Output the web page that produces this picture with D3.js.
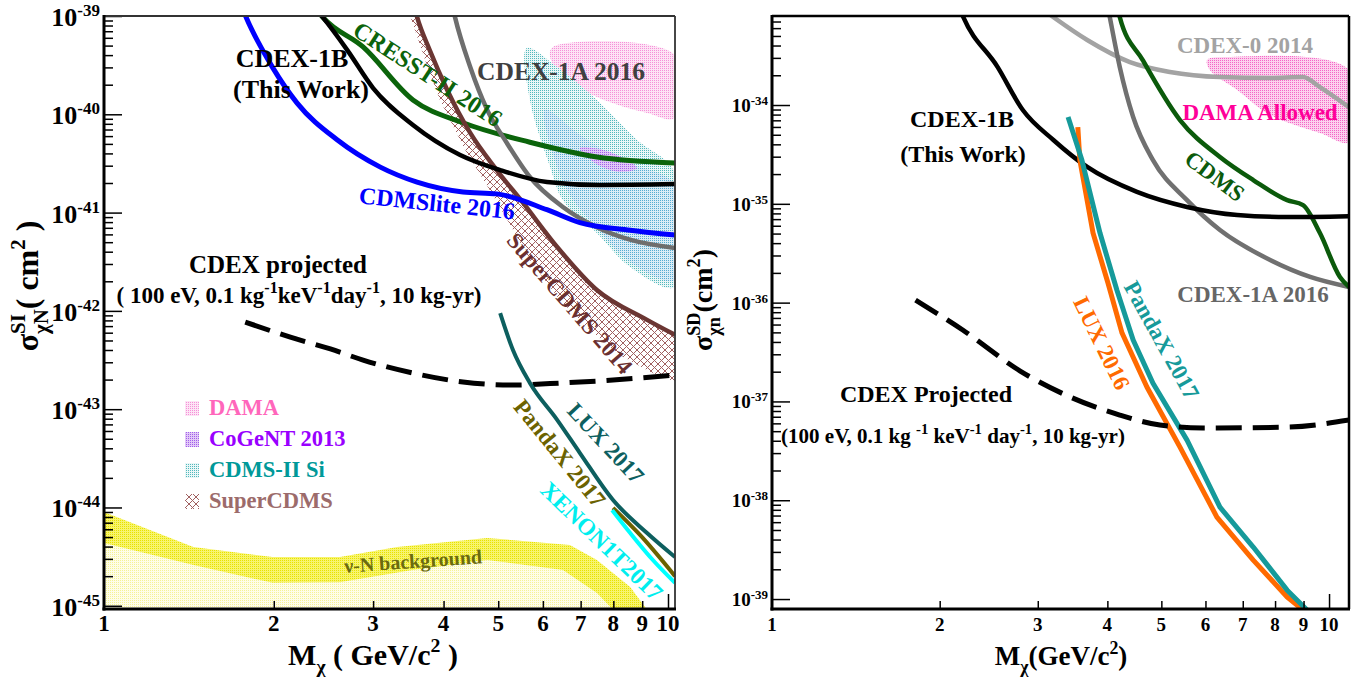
<!DOCTYPE html>
<html><head><meta charset="utf-8">
<script src="https://cdn.jsdelivr.net/npm/d3@7"></script>
<style>
body{margin:0;background:#fff}
svg{display:block}
text{font-family:"Liberation Serif","Times New Roman",serif;font-weight:bold}
</style>
</head><body>
<svg id="c" width="1366" height="679"></svg>
<script>
// ---------------- DATA ----------------
const massTicks = [1,2,3,4,5,6,7,8,9,10];
const leftDecades = [-39,-40,-41,-42,-43,-44,-45];
const rightDecades = [-34,-35,-36,-37,-38,-39];

// Left panel (spin-independent): [mass GeV, sigma cm^2]
const cdex1bSI = [[2.40,1.1e-39],[2.44,9.8e-40],[2.70,4.5e-40],[3.00,1.85e-40],[3.53,7.8e-41],[4.28,3.86e-41],[5.04,2.71e-41],[6.10,2.05e-41],[7.57,1.91e-41],[10.29,1.95e-41]];
const cresst2016 = [[2.40,1.1e-39],[2.44,9.8e-40],[2.88,4.84e-40],[3.53,1.40e-40],[4.33,8.2e-41],[5.69,5.2e-41],[7.48,3.68e-41],[10.29,3.2e-41]];
const cdmsLite2016 = [[1.77,1.1e-39],[1.785,9.8e-40],[1.99,3.0e-40],[2.20,1.30e-40],[2.59,5.5e-41],[3.09,2.9e-41],[3.59,2.04e-41],[4.33,1.62e-41],[4.97,1.55e-41],[6.10,1.07e-41],[6.98,7.9e-42],[8.57,6.6e-42],[10.29,5.9e-42]];
const cdex1a2016SI = [[4.17,1.1e-39],[4.19,9.8e-40],[4.46,3.03e-40],[4.78,1.11e-40],[5.18,5.1e-41],[5.69,2.30e-41],[6.51,1.14e-41],[7.48,7.1e-42],[8.56,5.3e-42],[10.29,4.37e-42]];
const superCdms2014 = [[3.57,1.1e-39],[3.59,9.8e-40],[3.78,4.5e-40],[4.06,1.77e-40],[4.46,6.46e-41],[4.97,2.71e-41],[5.53,1.26e-41],[6.36,4.47e-42],[7.48,1.63e-42],[9.18,8.1e-43],[10.29,5.7e-43]];
const superCdmsLow = [[3.49,1.0e-39],[3.71,3.56e-40],[3.94,1.40e-40],[4.37,4.34e-41],[4.83,1.70e-41],[5.25,7.5e-42],[5.69,3.30e-42],[6.43,1.29e-42],[7.27,6.4e-43],[8.22,3.56e-43],[9.29,2.4e-43],[10.29,1.9e-43]];
const cdexProjSI = [[1.78,7.7e-43],[2.14,5.4e-43],[2.52,4.1e-43],[2.88,3.16e-43],[3.53,2.33e-43],[4.33,1.89e-43],[5.31,1.76e-43],[6.51,1.85e-43],[7.99,1.98e-43],[10.29,2.23e-43]];
const lux2017 = [[5.04,9.5e-43],[5.31,4.0e-43],[5.69,1.85e-43],[6.36,7.8e-44],[6.98,3.58e-44],[7.99,1.19e-44],[9.18,5.5e-45],[10.29,3.13e-45]];
const pandax2017SI = [[7.99,9.9e-45],[8.92,5.25e-45],[10.29,2.0e-45]];
const xenon1t2017 = [[7.96,9.4e-45],[8.57,5.5e-45],[9.40,2.92e-45],[10.29,1.71e-45]];
const nuBgUpper = [[1,9.0e-45],[1.44,3.96e-45],[1.99,3.13e-45],[2.62,3.13e-45],[3.31,3.96e-45],[4.78,4.9e-45],[6.70,4.16e-45],[7.48,2.92e-45],[8.57,1.55e-45],[9.18,9.1e-46]];
const nuBgLower = [[1,4.35e-45],[1.44,2.6e-45],[1.99,1.71e-45],[2.62,1.73e-45],[3.53,2.31e-45],[4.78,2.92e-45],[6.51,2.31e-45],[7.48,1.35e-45],[7.99,9.1e-46]];
const damaSI = [[6.25,4.84e-40],[10.29,4.0e-40],[10.29,9.2e-41],[9.18,1.03e-40],[7.48,1.5e-40],[6.51,2.4e-40],[6.18,3.83e-40]];
const cdms2SiOuter = [[5.62,4.72e-40],[6.36,3.03e-40],[7.48,1.40e-40],[8.81,5.5e-41],[10.29,2.53e-41],[10.29,1.75e-42],[8.57,2.8e-42],[7.48,6.2e-42],[6.51,1.34e-41],[6.18,2.91e-41],[5.69,1.40e-40]];
const cdms2SiInner = [[6.05,1.11e-40],[6.98,6.2e-41],[8.22,3.43e-41],[10.29,1.91e-41],[10.29,2.06e-42],[8.57,3.14e-42],[7.48,6.97e-42],[6.70,1.51e-41],[6.30,3.43e-41]];
const cogent2013 = [[6.98,4.54e-41],[7.89,4.13e-41],[8.81,2.85e-41],[8.22,2.59e-41],[7.42,3.2e-41]];

// Right panel (spin-dependent neutron)
const cdex1bSD = [[2.18,9.0e-34],[2.20,7.96e-34],[2.54,2.43e-34],[2.82,8.9e-35],[3.20,4.43e-35],[3.68,2.36e-35],[4.52,1.32e-35],[5.56,9.3e-36],[6.84,7.7e-36],[8.41,7.35e-36],[10.86,7.5e-36]];
const cdex0_2014 = [[3.16,8.15e-34],[3.68,4.55e-34],[4.39,2.72e-34],[5.18,2.16e-34],[6.37,1.92e-34],[7.84,1.88e-34],[8.98,1.92e-34],[9.63,1.52e-34],[10.86,9.5e-35]];
const cdex1a2016SD = [[4.02,9.0e-34],[4.04,7.78e-34],[4.21,2.43e-34],[4.45,7.57e-35],[4.83,2.77e-35],[5.56,1.09e-35],[6.37,5.43e-36],[7.84,2.7e-36],[9.25,1.82e-36],[10.86,1.44e-36]];
const cdmsSD = [[4.19,9.0e-34],[4.21,7.78e-34],[4.63,2.85e-34],[5.40,7.05e-35],[6.37,2.98e-35],[7.31,1.74e-35],[8.41,1.09e-35],[8.98,9.7e-36],[9.63,5.06e-36],[10.46,1.82e-36],[10.86,1.44e-36]];
const damaSD = [[6.04,2.85e-34],[6.56,3.06e-34],[10.86,2.26e-34],[10.86,4.22e-35],[9.63,5.21e-35],[7.84,7.92e-35],[6.84,1.42e-34],[6.11,2.26e-34]];
const lux2016 = [[3.54,5.98e-35],[3.57,2.77e-35],[3.77,5.06e-36],[4.01,1.58e-36],[4.25,4.92e-37],[4.71,1.40e-37],[5.40,3.45e-38],[6.29,6.76e-39],[7.31,2.48e-39],[8.41,1.05e-39],[8.98,7.76e-40]];
const pandax2017SD = [[3.40,7.57e-35],[3.60,2.77e-35],[3.88,5.06e-36],[4.16,1.34e-36],[4.45,4.18e-37],[4.83,1.53e-37],[5.56,4.06e-38],[6.37,8.5e-39],[7.31,3.36e-39],[8.41,1.23e-39],[9.13,7.76e-40]];
const cdexProjSD = [[1.81,1.06e-36],[2.20,5.28e-37],[2.79,2.03e-37],[3.43,1.11e-37],[4.21,7.28e-38],[4.97,5.77e-38],[5.94,5.38e-38],[8.41,5.5e-38],[10.86,6.49e-38]];

// ---------------- SETUP ----------------
const svg = d3.select("#c");
const defs = svg.append("defs");
function dotPattern(id,bg,fg){
  const p = defs.append("pattern").attr("id",id).attr("width",2).attr("height",2).attr("patternUnits","userSpaceOnUse");
  p.append("rect").attr("width",2).attr("height",2).attr("fill",bg);
  p.append("rect").attr("width",1).attr("height",1).attr("fill",fg);
}
dotPattern("pPink","#fde4f5","#f590d8");
dotPattern("pTeal","#eaf7f7","#52b8bc");
dotPattern("pBlue","#cfe3f5","#5aa2e2");
dotPattern("pPurple","#e2c8f7","#a060ea");
dotPattern("pYellow","#f7f46e","#e8e200");
dotPattern("pYellowL","#fefde8","#f5f296");
dotPattern("pPinkR","#fcd2ee","#f466c6");
const ch = defs.append("pattern").attr("id","pHatch").attr("width",7).attr("height",7).attr("patternUnits","userSpaceOnUse");
ch.append("rect").attr("width",7).attr("height",7).attr("fill","#fff");
ch.append("path").attr("d","M0,0L7,7M7,0L0,7").attr("stroke","#a06060").attr("stroke-width",1);

const PL = {x0:104,x1:675,y0:16,y1:609};
const PR = {x0:772,x1:1349,y0:16,y1:609};
const xL = d3.scaleLog().domain([1,10.29]).range([PL.x0,PL.x1]);
const yL = d3.scaleLog().domain([9.27e-46,1e-39]).range([PL.y1,PL.y0]);
const xR = d3.scaleLog().domain([1,10.86]).range([PR.x0,PR.x1]);
const yR = d3.scaleLog().domain([7.93e-40,7.96e-34]).range([PR.y1,PR.y0]);

function clip(id,P){
  defs.append("clipPath").attr("id",id).append("rect")
    .attr("x",P.x0).attr("y",P.y0).attr("width",P.x1-P.x0).attr("height",P.y1-P.y0);
}
clip("clipL",PL); clip("clipR",PR);
const gL = svg.append("g").attr("clip-path","url(#clipL)");
const gR = svg.append("g").attr("clip-path","url(#clipR)");

function lineGen(x,y,c){return d3.line().x(d=>x(d[0])).y(d=>y(d[1])).curve(c||d3.curveMonotoneX);}
function polyGen(x,y){return d3.line().x(d=>x(d[0])).y(d=>y(d[1])).curve(d3.curveLinearClosed);}
function smoothPoly(x,y){return d3.line().x(d=>x(d[0])).y(d=>y(d[1])).curve(d3.curveCatmullRomClosed.alpha(0.5));}

const lnL = lineGen(xL,yL), pgL = polyGen(xL,yL), spL = smoothPoly(xL,yL);
const lnR = lineGen(xR,yR), spR = smoothPoly(xR,yR);
const lnRlin = lineGen(xR,yR,d3.curveLinear);

// ---------------- LEFT FILLS ----------------
const yMinL = yL.domain()[0];
gL.append("path").attr("d", pgL(nuBgLower.concat([[nuBgLower[nuBgLower.length-1][0],yMinL],[1,yMinL]])))
  .attr("fill","url(#pYellowL)");
gL.append("path").attr("d", pgL(nuBgUpper.concat(nuBgLower.slice().reverse()))).attr("fill","url(#pYellow)");
gL.append("path").attr("d", spL(damaSI)).attr("fill","url(#pPink)");
gL.append("path").attr("d", spL(cdms2SiOuter)).attr("fill","url(#pTeal)");
gL.append("path").attr("d", spL(cdms2SiInner)).attr("fill","url(#pBlue)").attr("opacity",0.55);
gL.append("path").attr("d", spL(cogent2013)).attr("fill","url(#pPurple)");
gL.append("path").attr("d", pgL(superCdms2014.concat(superCdmsLow.slice().reverse()))).attr("fill","url(#pHatch)");

// ---------------- LEFT LINES ----------------
function drawLine(g,gen,data,color,w,dash){
  const p = g.append("path").attr("d",gen(data)).attr("fill","none").attr("stroke",color)
    .attr("stroke-width",w).attr("stroke-linejoin","round");
  if(dash) p.attr("stroke-dasharray",dash);
  return p;
}
drawLine(gL,lnL,cresst2016,"#0b640b",5);
drawLine(gL,lnL,cdex1a2016SI,"#6e6e6e",4.5);
drawLine(gL,lnL,superCdms2014,"#6b3633",4.5);
drawLine(gL,lnL,cdex1bSI,"#000",4.5);
drawLine(gL,lnL,cdmsLite2016,"#0000ff",5);
drawLine(gL,lnL,cdexProjSI,"#000",5,"26,11");
drawLine(gL,lnL,lux2017,"#0d5f5f",4);
drawLine(gL,lnL,pandax2017SI,"#6b6200",4);
drawLine(gL,lnL,xenon1t2017,"#00ffff",4);

// ---------------- RIGHT FILLS & LINES ----------------
gR.append("path").attr("d", spR(damaSD)).attr("fill","url(#pPinkR)");
drawLine(gR,lnR,cdex0_2014,"#a3a3a3",4.5);
drawLine(gR,lnR,cdex1a2016SD,"#707070",4.5);
drawLine(gR,lnR,cdmsSD,"#0b5a0b",4.5);
drawLine(gR,lnR,cdex1bSD,"#000",4.5);
drawLine(gR,lnRlin,lux2016,"#ff6a00",5).attr("stroke-linecap","butt");
drawLine(gR,lnRlin,pandax2017SD,"#169a9a",5);
drawLine(gR,lnR,cdexProjSD,"#000",5,"26,11");

// ---------------- TEXT HELPERS ----------------
function rich(parent,x,y,parts,size,opts={}){
  const t = parent.append("text").attr("x",x).attr("y",y).attr("font-size",size)
    .attr("text-anchor",opts.anchor||"middle").attr("fill",opts.color||"#000");
  let off = 0;
  const supScale = opts.supScale||0.66;
  parts.forEach(([s,kind])=>{
    const sp = t.append("tspan").text(s);
    let target = 0, fs = size;
    if(kind==="sup"){target=-0.42*size; fs=supScale*size;}
    if(kind==="sub"){target=0.28*size; fs=supScale*size;}
    sp.attr("font-size",fs).attr("dy",target-off);
    off = target;
  });
  return t;
}
function label(parent,cx,cy,s,size,color,rot){
  return parent.append("text").attr("transform",`translate(${cx},${cy}) rotate(${rot||0})`)
    .attr("text-anchor","middle").attr("dy","0.35em").attr("font-size",size).attr("fill",color).text(s);
}
function plain(x,y,s,size,color){
  return svg.append("text").attr("x",x).attr("y",y).attr("text-anchor","middle").attr("font-size",size).attr("fill",color||"#000").text(s);
}

// ---------------- LEFT LABELS ----------------
plain(292,67,"CDEX-1B",26);
plain(301,98,"(This Work)",26);
label(svg,428,74,"CRESST-II 2016",24,"#0b640b",33);
plain(561,80,"CDEX-1A 2016",25.5,"#404040");
label(svg,437,203,"CDMSlite 2016",24,"#0000ff",6);
label(svg,570,303,"SuperCDMS 2014",23,"#6b3030",49);
plain(278,273,"CDEX projected",25);
rich(svg,299,303,[["( 100 eV, 0.1 kg"],["-1","sup"],["keV"],["-1","sup"],["day"],["-1","sup"],[", 10 kg-yr)"]],23,{supScale:0.7});
label(svg,606,443,"LUX 2017",23,"#0d5f5f",47);
label(svg,560,453,"PandaX 2017",23,"#6b6200",51);
label(svg,602,541,"XENON1T2017",23.5,"#00eeee",44);
label(svg,413,561,"ν-N background",20,"#6b6b10",-4);

// legend
const legendItems = ["DAMA","CoGeNT 2013","CDMS-II Si","SuperCDMS"];
const legendFills = ["url(#pPink)","url(#pPurple)","url(#pTeal)","url(#pHatch)"];
const legendColors = ["#ff66bb","#9900ff","#009999","#9c6b6b"];
legendItems.forEach((s,i)=>{
  const yy = 415 + i*31;
  svg.append("rect").attr("x",185).attr("y",yy-14).attr("width",14).attr("height",15).attr("fill",legendFills[i]);
  svg.append("text").attr("x",209).attr("y",yy).attr("font-size",22.5).attr("fill",legendColors[i]).text(s);
});

// ---------------- RIGHT LABELS ----------------
plain(962,127,"CDEX-1B",24);
plain(963,162,"(This Work)",24);
plain(1245,53,"CDEX-0 2014",23,"#a3a3a3");
plain(1260,120,"DAMA Allowed",23,"#ff0099");
label(svg,1215,176,"CDMS",23,"#0b5a0b",37);
plain(1253,302,"CDEX-1A 2016",23,"#666");
label(svg,1102,343,"LUX 2016",23,"#ff6a00",64);
label(svg,1162,340,"PandaX 2017",23,"#169a9a",61);
plain(926,402,"CDEX Projected",24);
rich(svg,953,443,[["(100 eV, 0.1 kg "],["-1","sup"],[" keV"],["-1","sup"],[" day"],["-1","sup"],[", 10 kg-yr)"]],21,{supScale:0.7});

// ---------------- AXES ----------------
function drawAxes(x,y,P,decades,ySize,ySup,yOff,xSize,supDy){
  const major=[],minor=[];
  const [lo,hi]=y.domain();
  decades.forEach(e=>{
    const b=Math.pow(10,e); major.push(b);
    for(let d=2;d<=9;d++){const v=d*b; if(v>=lo&&v<=hi) minor.push(v);}
  });
  const ga = svg.append("g").attr("transform",`translate(${P.x0},0)`);
  ga.call(d3.axisRight(y).tickValues(minor).tickSize(9).tickFormat(""));
  ga.call(g=>g.select(".domain").remove());
  const gb = svg.append("g").attr("transform",`translate(${P.x0},0)`);
  gb.call(d3.axisRight(y).tickValues(major.filter(v=>v>=lo*0.999&&v<=hi*1.001)).tickSize(18).tickFormat(""));
  gb.call(g=>g.select(".domain").remove());
  const gx = svg.append("g").attr("transform",`translate(0,${P.y1})`);
  gx.call(d3.axisTop(x).tickValues(massTicks.filter(v=>v>1&&v<10)).tickSize(8).tickFormat(""));
  gx.call(g=>g.select(".domain").remove());
  const gx2 = svg.append("g").attr("transform",`translate(0,${P.y1})`);
  gx2.call(d3.axisTop(x).tickValues([10]).tickSize(15).tickFormat(""));
  gx2.call(g=>g.select(".domain").remove());
  svg.selectAll(".tick line").attr("stroke","#000").attr("stroke-width",1.5);
  major.forEach((v,i)=>{
    if(v<lo*0.95||v>hi*1.05) return;
    const t = svg.append("text").attr("x",P.x0-4).attr("y",y(v)+yOff).attr("text-anchor","end").attr("font-size",ySize);
    t.append("tspan").text("10");
    t.append("tspan").attr("font-size",ySup).attr("dy",supDy).text(String(decades[i]));
  });
  massTicks.forEach(v=>{
    svg.append("text").attr("x",x(v)).attr("y",631).attr("text-anchor","middle").attr("font-size",xSize).text(v);
  });
}
drawAxes(xL,yL,PL,leftDecades,26,17,10,23,-10);
drawAxes(xR,yR,PR,rightDecades,19,13,7,19,-7);

function frame(P,topColor,topW,rightW){
  svg.append("line").attr("x1",P.x0).attr("x2",P.x1).attr("y1",P.y0).attr("y2",P.y0).attr("stroke",topColor).attr("stroke-width",topW);
  svg.append("line").attr("x1",P.x1).attr("x2",P.x1).attr("y1",P.y0).attr("y2",P.y1).attr("stroke",topColor).attr("stroke-width",rightW);
  svg.append("line").attr("x1",P.x0).attr("x2",P.x0).attr("y1",P.y0-1).attr("y2",P.y1+1.5).attr("stroke","#000").attr("stroke-width",3);
  svg.append("line").attr("x1",P.x0-1.5).attr("x2",P.x1+1).attr("y1",P.y1).attr("y2",P.y1).attr("stroke","#000").attr("stroke-width",3);
}
frame(PL,"#333",1.8,1.8);
frame(PR,"#000",2.5,2.5);

// axis titles
rich(svg,373,665,[["M"],["χ","sub"],[" ( GeV/c"],["2","sup"],[" )"]],30);
rich(svg,1061,665,[["M"],["χ","sub"],["(GeV/c"],["2","sup"],[")"]],27);

function sigmaLabel(cx,cy,sup,sub,rest,size){
  const t = svg.append("text").attr("transform",`translate(${cx},${cy}) rotate(-90)`)
    .attr("text-anchor","middle").attr("font-size",size);
  t.append("tspan").text("σ");
  const s1 = t.append("tspan").attr("font-size",size*0.65).attr("dy",-size*0.42).text(sup);
  const w = s1.node().getComputedTextLength();
  const s2 = t.append("tspan").attr("font-size",size*0.65).attr("dx",-w).attr("dy",size*0.72).text(sub);
  const w2 = s2.node().getComputedTextLength();
  t.append("tspan").attr("dy",-size*0.30).attr("dx",Math.max(0,w-w2)).text(rest);
  t.append("tspan").attr("font-size",size*0.65).attr("dy",-size*0.42).text("2");
  t.append("tspan").attr("dy",size*0.42).text(rest.startsWith("( ")?" )":")");
}
sigmaLabel(38,286,"SI","χN","( cm",32);
sigmaLabel(712,300,"SD","χn","(cm",28);
</script>
</body></html>
